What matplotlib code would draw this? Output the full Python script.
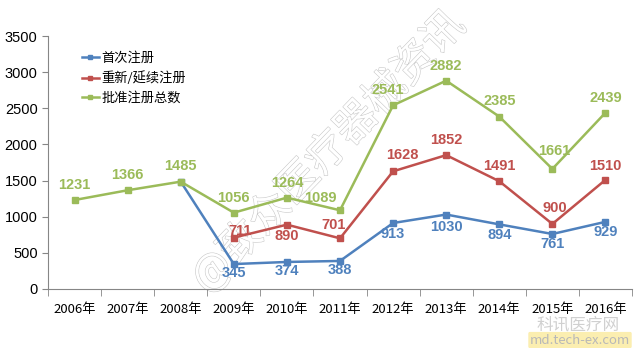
import numpy as np
import matplotlib
matplotlib.use("Agg")
import matplotlib.pyplot as plt
import matplotlib.patheffects as pe

plt.rcParams['font.family'] = ['Noto Sans CJK SC', 'DejaVu Sans']

years = ['2006年', '2007年', '2008年', '2009年', '2010年', '2011年',
         '2012年', '2013年', '2014年', '2015年', '2016年']
first_reg = [None, None, 1485, 345, 374, 388, 913, 1030, 894, 761, 929]
renew_reg = [None, None, None, 711, 890, 701, 1628, 1852, 1491, 900, 1510]
total_reg = [1231, 1366, 1485, 1056, 1264, 1089, 2541, 2882, 2385, 1661, 2439]

blue = '#4F81BD'
red = '#C0504D'
green = '#9BBB59'

# label offsets in pixels (dx, dy)
total_off = [(0, 15), (0, 15), (0, 16), (0, 15), (0, 15), (-20, 12),
             (-5, 15), (0, 15), (0, 16), (2, 18), (0, 15)]
renew_off = [None, None, None, (6, 7), (0, -11), (-6, 13),
             (9, 16), (0, 15), (0, 15), (2, 16), (0, 14)]
first_off = [None, None, None, (0, -9), (0, -9), (0, -9),
             (0, -11), (0, -12), (0, -11), (0, -10), (0, -10)]

fig = plt.figure(figsize=(6.4, 3.48), dpi=100)
ax = fig.add_axes([48 / 640, 1 - 289 / 348, 584 / 640, 253 / 348])
ax.patch.set_visible(False)

x = np.arange(len(years))


def series(vals):
    xs = [i for i, v in enumerate(vals) if v is not None]
    ys = [v for v in vals if v is not None]
    return xs, ys


for vals, col, name in [(first_reg, blue, '首次注册'),
                        (renew_reg, red, '重新/延续注册'),
                        (total_reg, green, '批准注册总数')]:
    xs, ys = series(vals)
    ax.plot(xs, ys, color=col, lw=1.8, marker='s', ms=4, label=name)

for vals, offs, col in [(total_reg, total_off, green),
                        (renew_reg, renew_off, red),
                        (first_reg, first_off, blue)]:
    for i, v in enumerate(vals):
        if v is None or offs[i] is None:
            continue
        ax.annotate(str(v), (i, v), textcoords='offset pixels', xytext=offs[i],
                    ha='center', va='center', color=col, fontsize=10.5,
                    fontweight='bold', family=['Liberation Sans', 'DejaVu Sans'])

ax.set_xlim(-0.5, 10.5)
ax.set_ylim(0, 3500)
ax.set_yticks(range(0, 3501, 500))
ax.set_xticks(x)
ax.set_xticklabels(years, fontsize=9.5)
ax.set_xticks(np.arange(-0.5, 11, 1), minor=True)
ax.tick_params(axis='x', which='major', length=0, pad=10)
ax.tick_params(axis='x', which='minor', length=5, color='#868686')
ax.tick_params(axis='y', length=4, color='#868686', labelsize=10.5)
for lab in ax.get_yticklabels():
    lab.set_family(['Liberation Sans', 'DejaVu Sans'])
for s in ['top', 'right']:
    ax.spines[s].set_visible(False)
for s in ['left', 'bottom']:
    ax.spines[s].set_color('#868686')

fig.legend(loc='upper left', bbox_to_anchor=(70 / 640, 1 - 40 / 348),
           frameon=False, fontsize=9.5, handlelength=1.3, handletextpad=0.2,
           labelspacing=0.5, markerscale=0.8)

# watermark, behind the lines
wm = fig.text(328 / 640, 1 - 152 / 348, '@致众医疗器械资讯', rotation=46,
              ha='center', va='center', fontsize=30, color='white',
              path_effects=[pe.withStroke(linewidth=0.8, foreground='#c8c8c8')])
wm.set_zorder(-1)
fig.text(578 / 640, 1 - 325 / 348, '科讯医疗网', ha='center', va='center',
         fontsize=12, color='#d0d0d0', zorder=-1)
fig.text(580 / 640, 1 - 340 / 348, 'md.tech-ex.com', ha='center', va='center',
         fontsize=9.5, color='#b8b8b8', zorder=-1,
         bbox=dict(boxstyle='round,pad=0.12', fc='#fbeeb0', ec='none'))

fig.savefig('out.png', dpi=100)
